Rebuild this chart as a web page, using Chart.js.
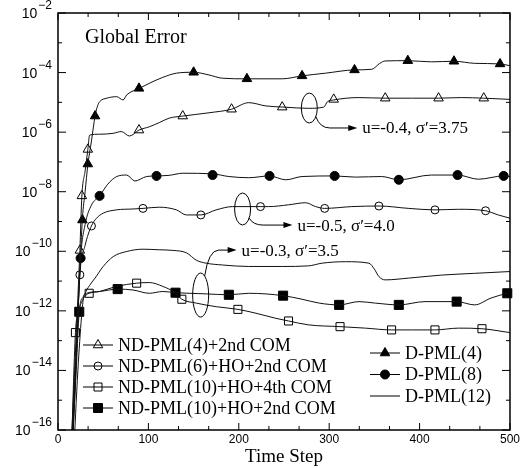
<!DOCTYPE html>
<html>
<head>
<meta charset="utf-8">
<script src="https://cdn.jsdelivr.net/npm/chart.js@4.4.1/dist/chart.umd.min.js"></script>
<style>
  body { margin: 0; background: #fff; }
  canvas { display: block; }
</style>
</head>
<body>
<canvas id="errorChart" width="522" height="468"></canvas>
<script>
// Values: time step and log10 of the global error

// D-PML(4)  (filled triangle)
const dpml4Time = [14.5, 20, 24, 27, 30, 33, 37, 41, 44, 46, 54, 65, 72, 76, 90, 101, 116, 131, 150, 167, 182, 209, 248, 270, 296, 328, 347, 356, 362, 387, 413, 438, 461, 489, 500];
const dpml4Err  = [-17, -13.4, -10.8, -8.9, -8.0, -7.1, -6.3, -5.46, -5.1, -4.98, -4.86, -4.81, -4.92, -4.75, -4.53, -4.36, -4.16, -4.02, -3.99, -4.08, -4.19, -4.21, -4.21, -4.11, -4.02, -3.91, -3.89, -3.69, -3.61, -3.6, -3.64, -3.62, -3.69, -3.71, -3.77];
const dpml4MarkTime = [27, 33, 41, 89.6, 150, 209, 270, 328, 387, 438, 489];
const dpml4MarkErr  = [-8.95, -7.07, -5.46, -4.53, -3.99, -4.21, -4.11, -3.91, -3.6, -3.62, -3.71];

// ND-PML(4)+2nd COM  (open triangle)
const nd4Time = [14, 20, 24.2, 26.4, 30, 33, 35, 46, 61, 70, 79, 89.6, 101, 112, 123, 138, 167, 192, 211, 230, 250, 277, 294, 298, 305, 332, 362, 391, 421, 446, 471, 500];
const nd4Err  = [-17, -12.9, -9.97, -8.14, -7.3, -6.58, -6.1, -6.07, -6.04, -5.98, -6.13, -5.93, -5.82, -5.68, -5.53, -5.46, -5.35, -5.23, -5.01, -5.12, -5.16, -5.2, -5.16, -4.98, -4.92, -4.84, -4.86, -4.86, -4.86, -4.84, -4.86, -4.9];
const nd4MarkTime = [24.2, 26.4, 33, 89.6, 138, 192, 248, 305, 362, 421, 471];
const nd4MarkErr  = [-9.97, -8.14, -6.58, -5.93, -5.46, -5.23, -5.16, -4.9, -4.86, -4.86, -4.86];

// D-PML(8)  (filled circle)
const dpml8Time = [15, 20, 25, 30, 37, 46, 55, 65, 76, 85, 98, 109, 123, 138, 171, 189, 211, 234, 252, 270, 306, 329, 358, 377, 413, 442, 465, 493, 500];
const dpml8Err  = [-17, -13.6, -10.23, -9.1, -8.45, -8.14, -7.75, -7.49, -7.44, -7.64, -7.49, -7.47, -7.45, -7.38, -7.4, -7.49, -7.53, -7.47, -7.6, -7.49, -7.47, -7.51, -7.49, -7.6, -7.44, -7.44, -7.58, -7.47, -7.49];
const dpml8MarkTime = [25, 46, 109, 171, 234, 306, 377, 442, 493];
const dpml8MarkErr  = [-10.23, -8.14, -7.47, -7.44, -7.47, -7.47, -7.6, -7.44, -7.47];

// ND-PML(6)+HO+2nd COM  (open circle)
const nd6Time = [15.5, 20, 24.2, 30, 37, 42.6, 50, 64.6, 83, 94, 112, 131, 142, 158, 175, 193, 224, 233, 255, 274, 285, 295, 325, 355, 388, 417, 443, 473, 487, 500];
const nd6Err  = [-17, -13.8, -10.79, -9.8, -9.15, -8.89, -8.72, -8.61, -8.58, -8.56, -8.52, -8.61, -8.78, -8.78, -8.61, -8.5, -8.5, -8.5, -8.44, -8.37, -8.5, -8.56, -8.5, -8.48, -8.56, -8.61, -8.59, -8.64, -8.78, -8.89];
const nd6MarkTime = [24.2, 37, 94, 158, 224, 295, 355, 417, 473];
const nd6MarkErr  = [-10.79, -9.15, -8.56, -8.78, -8.5, -8.56, -8.48, -8.61, -8.64];

// D-PML(12)  (plain line)
const dpml12Time = [17, 22, 26, 28, 31, 36, 41, 50, 61, 75.6, 94, 112, 127, 142, 153, 164, 182, 211, 248, 277, 292, 318, 344, 350, 355, 362, 388, 424, 461, 500];
const dpml12Err  = [-17, -14, -12.2, -11.6, -11.35, -11.1, -10.9, -10.51, -10.18, -10.01, -9.93, -9.95, -9.97, -10.05, -10.3, -10.4, -10.46, -10.51, -10.51, -10.49, -10.4, -10.35, -10.4, -10.6, -10.85, -10.96, -10.9, -10.8, -10.74, -10.68];

// ND-PML(10)+HO+4th COM  (open square)
const nd10hTime = [14.5, 19.3, 23, 27, 31, 34.5, 46, 64.6, 87, 101, 116, 129, 137, 153, 175, 199, 219, 241, 255, 277, 312, 340, 369, 391, 417, 443, 469, 500];
const nd10hErr  = [-17, -12.73, -12.0, -11.65, -11.47, -11.41, -11.35, -11.18, -11.07, -11.05, -11.18, -11.38, -11.61, -11.74, -11.86, -11.95, -12.08, -12.25, -12.34, -12.47, -12.53, -12.58, -12.64, -12.64, -12.64, -12.58, -12.6, -12.73];
const nd10hMarkTime = [19.3, 34.5, 87, 137, 199, 255, 312, 369, 417, 469];
const nd10hMarkErr  = [-12.73, -11.41, -11.07, -11.61, -11.95, -12.34, -12.53, -12.64, -12.64, -12.6];

// ND-PML(10)+HO+2nd COM  (filled square)
const nd10Time = [15, 20, 23.5, 28, 31.6, 46, 66, 83, 101, 116, 130, 145, 164, 189, 211, 249, 270, 289, 311, 333, 351, 377, 406, 441, 461, 479, 497, 500];
const nd10Err  = [-17, -14.1, -12.03, -11.52, -11.41, -11.35, -11.27, -11.3, -11.41, -11.35, -11.39, -11.41, -11.43, -11.46, -11.41, -11.49, -11.61, -11.74, -11.8, -11.69, -11.74, -11.8, -11.69, -11.69, -11.8, -11.57, -11.41, -11.39];
const nd10MarkTime = [23.5, 66, 130, 189, 249, 311, 377, 441, 497];
const nd10MarkErr  = [-12.03, -11.27, -11.39, -11.46, -11.49, -11.8, -11.8, -11.69, -11.41];

// axis ticks
const xMajorTicks = [0, 100, 200, 300, 400, 500];
const xMinorTicks = [33.3, 66.7, 133.3, 166.7, 233.3, 266.7, 333.3, 366.7, 433.3, 466.7];
const yMajorExps = [-2, -4, -6, -8, -10, -12, -14, -16];
const yMinorExps = [-3, -5, -7, -9, -11, -13, -15];

// legends
const ndLegendLabels = ["ND-PML(4)+2nd COM", "ND-PML(6)+HO+2nd COM", "ND-PML(10)+HO+4th COM", "ND-PML(10)+HO+2nd COM"];
const ndLegendMarks  = [["triangle", false], ["circle", false], ["rect", false], ["rect", true]];
const dLegendLabels  = ["D-PML(4)", "D-PML(8)", "D-PML(12)"];
const dLegendMarks   = [["triangle", true], ["circle", true], [null, false]];

// annotations: ellipse centre and text start, in (time, log10 error)
const annotations = [
    { cx: 278, ce: -5.19, rx: 8, ry: 15, ang: 35, tx: 336.6, te: -5.86, text: "u=-0.4, σ′=3.75" },
    { cx: 204.2, ce: -8.58, rx: 8, ry: 16, ang: 35, tx: 264.9, te: -9.12, text: "u=-0.5, σ′=4.0" },
    { cx: 157.8, ce: -11.47, rx: 8, ry: 22, ang: -60, tx: 203.1, te: -9.96, text: "u=-0.3, σ′=3.5" }
];

const SERIF = "'Liberation Serif', 'Times New Roman', serif";
const SANS = "'Liberation Sans', Arial, sans-serif";

function pts(times, exps) {
    return times.map((t, i) => ({ x: t, y: Math.pow(10, exps[i]) }));
}

function lineSet(times, exps) {
    return {
        data: pts(times, exps),
        borderColor: "#111",
        borderWidth: 1,
        pointRadius: 0,
        cubicInterpolationMode: "monotone",
        clip: 0
    };
}

function markSet(times, exps, style, filled, radius) {
    return {
        data: pts(times, exps),
        showLine: false,
        pointStyle: style,
        pointRadius: radius,
        pointHoverRadius: radius,
        pointBorderWidth: 1,
        pointBorderColor: "#000",
        pointBackgroundColor: filled ? "#000" : "rgba(0,0,0,0)",
        clip: 8
    };
}

// same shapes as Chart.js draws them
function drawMark(ctx, style, filled, x, y) {
    ctx.beginPath();
    if (style === "triangle") {
        const r = 5.5;
        ctx.moveTo(x, y - r);
        ctx.lineTo(x + r * 0.866, y + r / 2);
        ctx.lineTo(x - r * 0.866, y + r / 2);
        ctx.closePath();
    } else if (style === "circle") {
        const r = filled ? 4.5 : 4;
        ctx.arc(x, y, r, 0, Math.PI * 2);
    } else if (style === "rect") {
        const s = filled ? 4.5 : 4;
        ctx.rect(x - s, y - s, 2 * s, 2 * s);
    } else {
        return;
    }
    if (filled) {
        ctx.fillStyle = "#000";
        ctx.fill();
    }
    ctx.stroke();
}

function seg(ctx, x0, y0, x1, y1) {
    ctx.beginPath();
    ctx.moveTo(x0, y0);
    ctx.lineTo(x1, y1);
    ctx.stroke();
}

const framePlugin = {
    id: "frame",
    beforeDraw(chart) {
        const ctx = chart.ctx;
        ctx.save();
        ctx.fillStyle = "#fff";
        ctx.fillRect(0, 0, chart.width, chart.height);
        ctx.restore();
    },
    afterDatasetsDraw(chart) {
        const { ctx, chartArea: a, scales: { x, y } } = chart;
        ctx.save();
        ctx.strokeStyle = "#000";
        ctx.lineWidth = 1;

        // inward ticks on all four sides
        xMajorTicks.forEach(v => {
            const px = x.getPixelForValue(v);
            seg(ctx, px, a.bottom, px, a.bottom - 7);
            seg(ctx, px, a.top, px, a.top + 7);
        });
        xMinorTicks.forEach(v => {
            const px = x.getPixelForValue(v);
            seg(ctx, px, a.bottom, px, a.bottom - 4);
            seg(ctx, px, a.top, px, a.top + 4);
        });
        yMajorExps.forEach(e => {
            const py = y.getPixelForValue(Math.pow(10, e));
            seg(ctx, a.left, py, a.left + 8, py);
            seg(ctx, a.right, py, a.right - 8, py);
        });
        yMinorExps.forEach(e => {
            const py = y.getPixelForValue(Math.pow(10, e));
            seg(ctx, a.left, py, a.left + 4, py);
            seg(ctx, a.right, py, a.right - 4, py);
        });

        ctx.lineWidth = 1.5;
        ctx.strokeRect(a.left, a.top, a.right - a.left, a.bottom - a.top);

        // y tick labels as 10 with a raised exponent
        ctx.fillStyle = "#000";
        ctx.textBaseline = "alphabetic";
        ctx.textAlign = "left";
        yMajorExps.forEach(e => {
            const py = y.getPixelForValue(Math.pow(10, e));
            const expText = "\u2212" + Math.abs(e);
            ctx.font = "12px " + SANS;
            const w2 = ctx.measureText(expText).width;
            ctx.font = "14px " + SANS;
            const w1 = ctx.measureText("10").width;
            const right = a.left - 6;
            ctx.fillText("10", right - w2 - 1 - w1, py + 5);
            ctx.font = "12px " + SANS;
            ctx.fillText(expText, right - w2, py - 4);
        });

        // title inside the plot
        ctx.font = "20px " + SERIF;
        ctx.fillText("Global Error", a.left + 27, a.top + 30);

        // annotations
        ctx.lineWidth = 1;
        annotations.forEach(an => {
            const cx = x.getPixelForValue(an.cx);
            const cy = y.getPixelForValue(Math.pow(10, an.ce));
            const tx = x.getPixelForValue(an.tx);
            const ty = y.getPixelForValue(Math.pow(10, an.te));
            ctx.beginPath();
            ctx.ellipse(cx, cy, an.rx, an.ry, 0, 0, Math.PI * 2);
            ctx.stroke();
            const rad = an.ang * Math.PI / 180;
            const sx = cx + an.rx * Math.cos(rad);
            const sy = cy + an.ry * Math.sin(rad);
            const tip = tx - 5;
            ctx.beginPath();
            ctx.moveTo(sx, sy);
            ctx.quadraticCurveTo(sx + 4, ty, sx + 14, ty);
            ctx.lineTo(tip - 7, ty);
            ctx.stroke();
            ctx.beginPath();
            ctx.moveTo(tip, ty);
            ctx.lineTo(tip - 9, ty - 3);
            ctx.lineTo(tip - 9, ty + 3);
            ctx.closePath();
            ctx.fill();
            ctx.font = "17px " + SERIF;
            ctx.textBaseline = "middle";
            ctx.fillText(an.text, tx, ty + 1);
            ctx.textBaseline = "alphabetic";
        });

        // legends
        ctx.font = "18px " + SERIF;
        ctx.textBaseline = "middle";
        ndLegendLabels.forEach((label, i) => {
            const ly = a.top + 332 + i * 21;
            const x0 = a.left + 25;
            seg(ctx, x0, ly, x0 + 30, ly);
            drawMark(ctx, ndLegendMarks[i][0], ndLegendMarks[i][1], x0 + 15, ly);
            ctx.fillStyle = "#000";
            ctx.fillText(label, x0 + 35, ly + 1);
        });
        dLegendLabels.forEach((label, i) => {
            const ly = a.top + 340 + i * 21.5;
            const x0 = a.left + 312;
            seg(ctx, x0, ly, x0 + 30, ly);
            drawMark(ctx, dLegendMarks[i][0], dLegendMarks[i][1], x0 + 15, ly);
            ctx.fillStyle = "#000";
            ctx.fillText(label, x0 + 35, ly + 1);
        });
        ctx.restore();
    }
};

const ctx = document.getElementById("errorChart").getContext("2d");
const chart = new Chart(ctx, {
    type: "line",
    data: {
        datasets: [
            lineSet(dpml4Time, dpml4Err),
            lineSet(nd4Time, nd4Err),
            lineSet(dpml8Time, dpml8Err),
            lineSet(nd6Time, nd6Err),
            lineSet(dpml12Time, dpml12Err),
            lineSet(nd10hTime, nd10hErr),
            lineSet(nd10Time, nd10Err),
            markSet(dpml4MarkTime, dpml4MarkErr, "triangle", true, 5.5),
            markSet(nd4MarkTime, nd4MarkErr, "triangle", false, 5.5),
            markSet(dpml8MarkTime, dpml8MarkErr, "circle", true, 4.5),
            markSet(nd6MarkTime, nd6MarkErr, "circle", false, 4),
            markSet(nd10hMarkTime, nd10hMarkErr, "rect", false, 5.7),
            markSet(nd10MarkTime, nd10MarkErr, "rect", true, 6.4)
        ]
    },
    options: {
        responsive: false,
        animation: false,
        events: [],
        layout: { padding: { top: 13, right: 11, left: 0, bottom: 0 } },
        plugins: {
            legend: { display: false },
            tooltip: { enabled: false }
        },
        scales: {
            x: {
                type: "linear",
                min: 0,
                max: 500,
                ticks: {
                    stepSize: 100,
                    color: "#000",
                    padding: 2,
                    maxRotation: 0,
                    font: { family: SANS, size: 12 }
                },
                grid: { display: false, drawTicks: false },
                border: { display: false },
                title: {
                    display: true,
                    text: "Time Step",
                    color: "#000",
                    font: { family: SERIF, size: 19, lineHeight: 1 },
                    padding: { top: 0, bottom: 1.5 }
                },
                afterFit: function(scale) { scale.height = 38; }
            },
            y: {
                type: "logarithmic",
                min: 1e-16,
                max: 1e-2,
                ticks: { display: false },
                grid: { display: false, drawTicks: false },
                border: { display: false },
                afterBuildTicks: function(scale) {
                    scale.ticks = yMajorExps.map(e => ({ value: Math.pow(10, e) }));
                },
                afterFit: function(scale) { scale.width = 58; }
            }
        }
    },
    plugins: [framePlugin]
});
</script>
</body>
</html>
